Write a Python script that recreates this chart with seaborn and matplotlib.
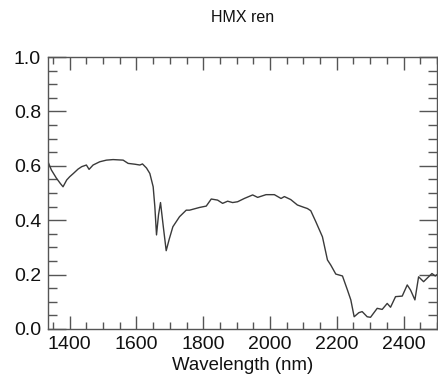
import matplotlib
matplotlib.use("Agg")
import matplotlib.pyplot as plt
from matplotlib.ticker import MultipleLocator, FormatStrFormatter
import pandas as pd
import seaborn as sns

# Reflectance spectrum of HMX
wavelength = [1335, 1345, 1360, 1372, 1380, 1391, 1400, 1411, 1425, 1436, 1450, 1458, 1470,
              1490, 1510, 1530, 1560, 1575, 1595, 1610, 1618, 1630, 1640, 1650, 1655,
              1660, 1666, 1672, 1680, 1689, 1698, 1709, 1729, 1749, 1759, 1789, 1809,
              1824, 1843, 1858, 1873, 1888, 1903, 1923, 1948, 1963, 1988, 2013, 2033,
              2043, 2062, 2082, 2100, 2112, 2122, 2137, 2157, 2172, 2182, 2197, 2217,
              2232, 2242, 2252, 2266, 2276, 2291, 2301, 2321, 2336, 2351, 2361, 2376,
              2396, 2411, 2421, 2434, 2445, 2460, 2475, 2485, 2495, 2500]
reflectance = [0.615, 0.585, 0.555, 0.535, 0.523, 0.548, 0.560, 0.572, 0.588, 0.597, 0.603, 0.587, 0.603,
               0.615, 0.621, 0.623, 0.621, 0.609, 0.606, 0.603, 0.607, 0.592, 0.572, 0.523, 0.450,
               0.346, 0.420, 0.465, 0.380, 0.288, 0.330, 0.376, 0.413, 0.437, 0.437, 0.447, 0.452,
               0.478, 0.474, 0.462, 0.470, 0.465, 0.468, 0.480, 0.493, 0.484, 0.494, 0.494, 0.480,
               0.487, 0.476, 0.456, 0.448, 0.443, 0.435, 0.395, 0.339, 0.254, 0.235, 0.202, 0.195,
               0.143, 0.107, 0.045, 0.060, 0.064, 0.045, 0.043, 0.076, 0.072, 0.094, 0.080, 0.119,
               0.121, 0.162, 0.143, 0.107, 0.192, 0.174, 0.192, 0.204, 0.195, 0.200]

df = pd.DataFrame({"Wavelength (nm)": wavelength, "Reflectance": reflectance})

sns.set_style("ticks")
plt.rcParams["font.family"] = ["Liberation Sans", "DejaVu Sans"]

fig = plt.figure(figsize=(4.38, 3.83), dpi=100)
ax = fig.add_axes([0.1096, 0.141, 0.888, 0.710])

sns.lineplot(data=df, x="Wavelength (nm)", y="Reflectance", ax=ax,
             color="#3a3a3a", linewidth=1.0, sort=False)

ax.set_xlim(1335, 2500)
ax.set_ylim(0.0, 1.0)
ax.xaxis.set_major_locator(MultipleLocator(200))
ax.xaxis.set_minor_locator(MultipleLocator(50))
ax.yaxis.set_major_locator(MultipleLocator(0.2))
ax.yaxis.set_minor_locator(MultipleLocator(0.05))
ax.yaxis.set_major_formatter(FormatStrFormatter("%.1f"))

ax.tick_params(axis="both", which="both", direction="in", top=True, right=True,
               color="#555555", width=1.0, labelsize=14, labelcolor="#111111")
ax.tick_params(axis="x", which="major", length=9.5, pad=5)
ax.tick_params(axis="x", which="minor", length=5)
ax.tick_params(axis="y", which="major", length=13, pad=5)
ax.tick_params(axis="y", which="minor", length=6.5)

for side in ax.spines.values():
    side.set_color("#555555")
    side.set_linewidth(1.0)

ax.set_xlabel("Wavelength (nm)", fontsize=13.4, color="#111111", labelpad=3)
ax.set_ylabel("")
fig.suptitle("HMX ren", x=0.553, y=0.975, fontsize=11.5, color="#111111")

fig.savefig("out.png", dpi=100)
